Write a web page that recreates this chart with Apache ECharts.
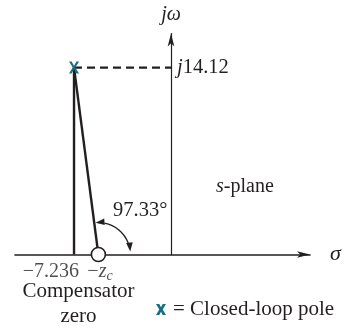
<!DOCTYPE html>
<html>
<head>
<meta charset="utf-8">
<script src="https://cdn.jsdelivr.net/npm/echarts@6/dist/echarts.min.js"></script>
<style>
html, body { margin: 0; padding: 0; background: #fff; }
#chart { width: 348px; height: 330px; }
</style>
</head>
<body>
<div id="chart"></div>
<script>
// s平面：闭环极点、补偿器零点
var poleRe = -7.236;
var poleIm = 14.12;
var zeroRe = -5.42;
var poleLabel = 'j14.12';
var angleLabel = '97.33°';
var poleName = '= Closed-loop pole';

var FONT = 'Liberation Serif';
var INK = '#231f20';
var TEAL = '#17707f';
var crossPath = 'path://M0,0H2.6L5,4.2L7.4,0H10L6.3,6L10,12H7.4L5,7.8L2.6,12H0L3.7,6Z';
var crossBold = 'path://M0,0H3.3L5,3.3L6.7,0H10L6.7,5.5L10,11H6.7L5,7.7L3.3,11H0L3.3,5.5Z';

window.onload = function() {
	let chart = echarts.init(document.getElementById('chart'));

	// 角度弧线 + 两端箭头
	function renderArc(params, api) {
		var c = api.coord([api.value(0), 0]);
		var p = api.coord([poleRe, poleIm]);
		var r = 32;
		var a1 = Math.atan2(c[1] - p[1], p[0] - c[0]) - 0.04;
		var a0 = 0.09;
		var len = 9, w = 3.3;
		function head(a, dir) {
			var tip = [c[0] + r * Math.cos(a), c[1] - r * Math.sin(a)];
			var t = [-Math.sin(a) * dir, -Math.cos(a) * dir];
			var n = [-t[1], t[0]];
			var b = [tip[0] - t[0] * len, tip[1] - t[1] * len];
			return {
				type: 'polygon',
				shape: { points: [tip, [b[0] + n[0] * w, b[1] + n[1] * w], [b[0] - n[0] * w, b[1] - n[1] * w]] },
				style: { fill: INK }
			};
		}
		var da = len / r;
		return {
			type: 'group',
			children: [{
				type: 'arc',
				shape: { cx: c[0], cy: c[1], r: r, startAngle: -(a1 - da), endAngle: -(a0 + da), clockwise: true },
				style: { stroke: INK, lineWidth: 1.4, fill: 'none' }
			}, head(a1, 1), head(a0, -1)]
		};
	}

	let option = {
		animation: false,
		grid: { left: 15, right: 38, top: 33.5, bottom: 75.5, containLabel: false, outerBoundsMode: 'none' },
		xAxis: {
			type: 'value', min: -11.64, max: 10.37,
			axisLine: { onZero: true, symbol: ['none', 'arrow'], symbolSize: [5, 13], lineStyle: { color: INK, width: 1.6 } },
			axisTick: { show: false }, axisLabel: { show: false }, splitLine: { show: false },
			name: 'σ', nameLocation: 'end', nameGap: 20,
			nameTextStyle: { fontFamily: FONT, fontStyle: 'italic', fontSize: 22, color: INK, verticalAlign: 'middle', padding: [0, 0, 3, 0] }
		},
		yAxis: {
			type: 'value', min: 0, max: 16.69,
			axisLine: { onZero: true, symbol: ['none', 'arrow'], symbolSize: [5, 13], lineStyle: { color: INK, width: 1.2 } },
			axisTick: { show: false }, axisLabel: { show: false }, splitLine: { show: false },
			name: 'jω', nameLocation: 'end', nameGap: 9,
			nameTextStyle: { fontFamily: FONT, fontStyle: 'italic', fontSize: 20, color: INK, align: 'center' }
		},
		legend: {
			left: 156, top: 299, padding: 0,
			itemWidth: 10, itemHeight: 11, itemGap: 0,
			selectedMode: false,
			textStyle: { fontFamily: FONT, fontSize: 21, color: INK, padding: [0, 0, 0, 2] },
			data: [{ name: poleName, icon: crossBold, itemStyle: { color: TEAL } }]
		},
		graphic: [
			{ type: 'text', x: 216, y: 187, style: { text: '{i|s}-plane', rich: { i: { fontStyle: 'italic', fontFamily: FONT, fontSize: 20 } }, fontFamily: FONT, fontSize: 20, fill: INK, align: 'left', verticalAlign: 'middle' } },
			{ type: 'text', x: 113, y: 211, style: { text: angleLabel, fontFamily: FONT, fontSize: 20.5, fill: INK, align: 'left', verticalAlign: 'middle' } },
			{ type: 'text', x: 78.5, y: 291, style: { text: 'Compensator', fontFamily: FONT, fontSize: 21, fill: INK, align: 'center', verticalAlign: 'middle' } },
			{ type: 'text', x: 78.5, y: 316, style: { text: 'zero', fontFamily: FONT, fontSize: 21, fill: INK, align: 'center', verticalAlign: 'middle' } }
		],
		series: [{
			// 极点竖线
			type: 'line', symbol: 'none', z: 2,
			data: [[poleRe, 0], [poleRe, poleIm]],
			lineStyle: { color: INK, width: 2.4 }
		}, {
			// 极点到零点
			type: 'line', symbol: 'none', z: 2,
			data: [[poleRe, poleIm], [zeroRe, 0]],
			lineStyle: { color: INK, width: 2.4 }
		}, {
			// 虚线到虚轴
			type: 'line', symbol: 'none', z: 2,
			data: [[poleRe, poleIm], [0, poleIm]],
			lineStyle: { color: INK, width: 2.2, type: [8, 5] },
			endLabel: {
				show: true, distance: 6,
				formatter: '{i|j}14.12',
				fontFamily: FONT, fontSize: 20.5, color: INK,
				rich: { i: { fontStyle: 'italic', fontFamily: FONT, fontSize: 20.5 } }
			}
		}, {
			type: 'custom', z: 3,
			renderItem: renderArc,
			data: [[zeroRe, 0]]
		}, {
			// 补偿器零点
			type: 'scatter', z: 5,
			symbol: 'circle', symbolSize: 14,
			itemStyle: { color: '#fff', borderColor: INK, borderWidth: 1.6, opacity: 1 },
			data: [[zeroRe, 0]]
		}, {
			name: poleName,
			type: 'scatter', z: 6,
			symbol: crossPath, symbolSize: [10, 12],
			itemStyle: { color: TEAL, opacity: 1 },
			data: [[poleRe, poleIm]]
		}, {
			// 实轴标注
			type: 'scatter', z: 4, symbolSize: 0, silent: true,
			data: [{
				value: [poleRe, 0],
				label: { show: true, formatter: '−7.236', position: [5, 17], align: 'right', verticalAlign: 'middle', fontFamily: FONT, fontSize: 20, color: INK }
			}, {
				value: [zeroRe, 0],
				label: {
					show: true, formatter: '{m|−}{z|z}{c|c}', position: [-11, 17], align: 'left', verticalAlign: 'middle', color: INK,
					rich: {
						m: { fontFamily: FONT, fontSize: 20, lineHeight: 24 },
						z: { fontFamily: FONT, fontSize: 20, fontStyle: 'italic', lineHeight: 24 },
						c: { fontFamily: FONT, fontSize: 14, fontStyle: 'italic', lineHeight: 12, verticalAlign: 'bottom' }
					}
				}
			}]
		}]
	};
	chart.setOption(option);
};
</script>
</body>
</html>
